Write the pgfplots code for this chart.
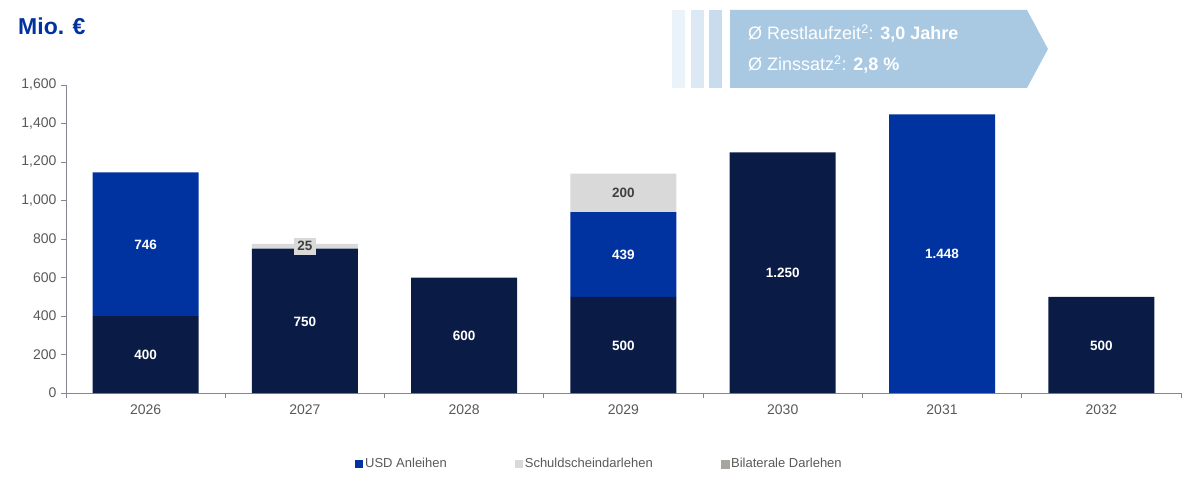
\documentclass[border=0pt]{standalone}
\usepackage{pgfplots}
\pgfplotsset{compat=1.18}
\usepackage{fontspec}
\setmainfont{Liberation Sans}
\definecolor{navy}{HTML}{0A1C46}
\definecolor{usdblue}{HTML}{0033A0}
\definecolor{ssdgrey}{HTML}{D9D9D9}
\definecolor{bilgrey}{HTML}{A8A5A0}
\definecolor{txtgrey}{HTML}{595959}
\definecolor{lblgrey}{HTML}{404040}
\definecolor{axgrey}{HTML}{868690}
\definecolor{boxblue}{HTML}{A9C9E3}
\definecolor{sa}{HTML}{EBF3FA}
\definecolor{sb}{HTML}{DCE8F4}
\definecolor{sc}{HTML}{C8DCEE}
\pgfplotsset{
  sq/.style={legend image code/.code={\fill[#1] (0pt,-4pt) rectangle (8pt,4pt);}},
  common/.style={
    at={(66pt,-393pt)}, anchor=south west,
    scale only axis, width=1115pt, height=308pt,
    xmin=-0.5, xmax=6.5, ymin=0, ymax=1600,
  },
}
\begin{document}
\begin{tikzpicture}
\path[use as bounding box] (0pt,0pt) rectangle (1201pt,-481pt);
% info box
\fill[sa] (672pt,-10pt) rectangle (685pt,-88pt);
\fill[sb] (691pt,-10pt) rectangle (704pt,-88pt);
\fill[sc] (709pt,-10pt) rectangle (722pt,-88pt);
\fill[boxblue] (730pt,-10pt) -- (1027pt,-10pt) -- (1048pt,-49pt) -- (1027pt,-88pt) -- (730pt,-88pt) -- cycle;
\node[anchor=base west, text=white, font=\fontsize{18}{20}\selectfont, inner sep=0pt] at (748pt,-40pt) {Ø Restlaufzeit\textsuperscript{\fontsize{12.5}{13}\selectfont 2}: \textbf{3,0 Jahre}};
\node[anchor=base west, text=white, font=\fontsize{18}{20}\selectfont, inner sep=0pt] at (748pt,-71pt) {Ø Zinssatz\textsuperscript{\fontsize{12.5}{13}\selectfont 2}: \textbf{2,8 \%}};
% title
\node[anchor=base west, text=usdblue, font=\fontsize{23}{25}\selectfont\bfseries, inner sep=0pt] at (18pt,-35pt) {Mio. €};

\begin{axis}[
  common,
  ybar stacked, bar width=106pt,
  axis lines*=left,
  axis line style={draw=axgrey, line width=0.8pt},
  tick align=outside, major tick length=5pt,
  tick style={draw=axgrey, line width=0.8pt},
  xtick={-0.5,0.5,...,6.5},
  xticklabels={2026,2027,2028,2029,2030,2031,2032,{}},
  xticklabel style={xshift=79.64pt, yshift=-3pt},
  ytick={0,200,...,1600},
  yticklabel style={xshift=-1pt},
  ticklabel style={font=\fontsize{14}{16}\selectfont, text=txtgrey},
  /pgf/number format/.cd, 1000 sep={,}, assume math mode=true, /pgfplots/.cd,
  legend columns=-1,
  legend style={at={(0.2592,-0.2305)}, anchor=west, draw=none, fill=none,
    inner sep=0pt, font=\fontsize{13}{15}\selectfont, text=txtgrey,
    /tikz/every even column/.append style={column sep=66pt}},
  legend cell align=left,
]
\addplot[fill=navy, draw=none, forget plot] coordinates {(0,400) (1,750) (2,600) (3,500) (4,1250) (5,0) (6,500)};
\addplot[fill=usdblue, draw=none, sq=usdblue] coordinates {(0,746) (1,0) (2,0) (3,439) (4,0) (5,1448) (6,0)};
\addlegendentry{USD Anleihen}
\addplot[fill=ssdgrey, draw=none, sq=ssdgrey] coordinates {(0,0) (1,25) (2,0) (3,200) (4,0) (5,0) (6,0)};
\addlegendentry{Schuldscheindarlehen}
\addlegendimage{sq=bilgrey}
\addlegendentry{Bilaterale Darlehen}
\end{axis}

\begin{axis}[common, hide axis,
  nodes near coords, point meta=explicit symbolic,
  nodes near coords align=center,
  every node near coord/.append style={font=\fontsize{13.5}{15}\selectfont\bfseries, anchor=center},
]
\addplot[only marks, mark=none, every node near coord/.append style={text=white}] coordinates {
  (0,197) [400] (0,770) [746]
  (1,370) [750]
  (2,297) [600]
  (3,246) [500] (3,716) [439]
  (4,622) [1.250]
  (5,723) [1.448]
  (6,246) [500]
};
\addplot[only marks, mark=none, every node near coord/.append style={text=lblgrey}] coordinates {
  (3,1039) [200]
};
\addplot[only marks, mark=none, every node near coord/.append style={text=lblgrey, fill=ssdgrey, inner sep=3.5pt}] coordinates {
  (1,762) [25]
};
\end{axis}
\end{tikzpicture}
\end{document}
